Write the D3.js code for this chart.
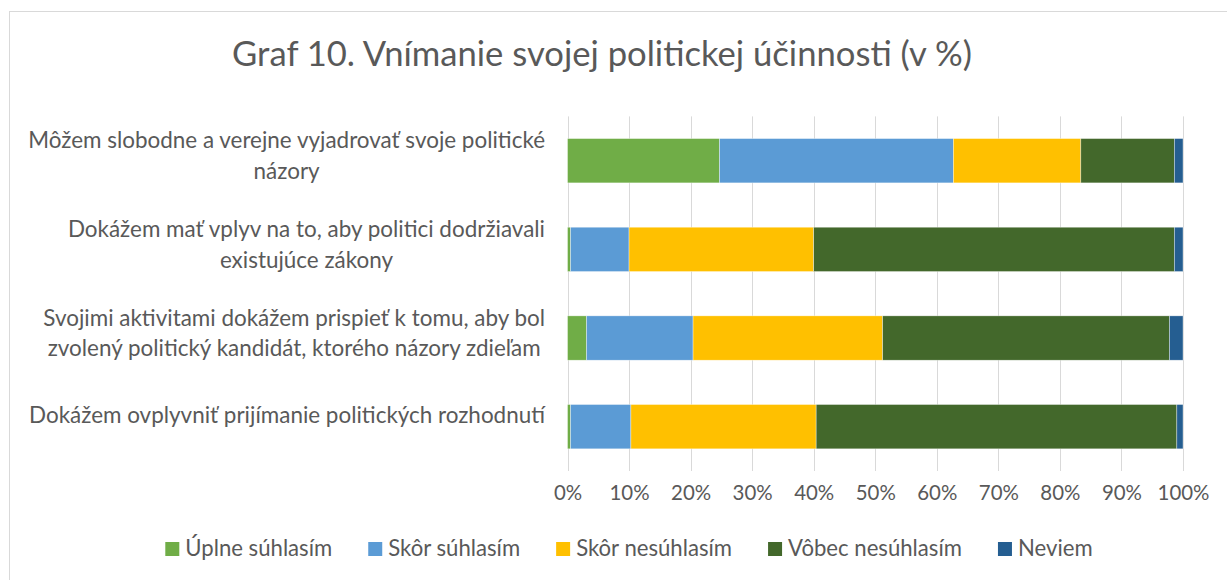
<!DOCTYPE html>
<html><head><meta charset="utf-8">
<script src="https://cdn.jsdelivr.net/npm/d3@7"></script>
<style>html,body{margin:0;padding:0;background:#fff;overflow:hidden}</style>
</head><body>
<svg id="c" width="1227" height="580"></svg>
<script>
const title = "Graf 10. Vnímanie svojej politickej účinnosti (v %)";
const categories = [
  ["Môžem slobodne a verejne vyjadrovať svoje politické", "názory"],
  ["Dokážem mať vplyv na to, aby politici dodržiavali", "existujúce zákony"],
  ["Svojimi aktivitami dokážem prispieť k tomu, aby bol", "zvolený politický kandidát, ktorého názory zdieľam"],
  ["Dokážem ovplyvniť prijímanie politických rozhodnutí"]
];
const seriesNames = ["Úplne súhlasím", "Skôr súhlasím", "Skôr nesúhlasím", "Vôbec nesúhlasím", "Neviem"];
const uplneSuhlasim   = [24.7, 0.5, 3.1, 0.5];
const skorSuhlasim    = [38.0, 9.5, 17.3, 9.8];
const skorNesuhlasim  = [20.7, 30.0, 30.8, 30.1];
const vobecNesuhlasim = [15.2, 58.6, 46.6, 58.6];
const neviem          = [1.4, 1.4, 2.2, 1.0];
const tickValues = [0, 10, 20, 30, 40, 50, 60, 70, 80, 90, 100];
const tickLabels = ["0%", "10%", "20%", "30%", "40%", "50%", "60%", "70%", "80%", "90%", "100%"];
const colors = ["#70AD47", "#5B9BD5", "#FFC000", "#43682B", "#255E91"];

const FONT = "Lato, 'Open Sans', sans-serif";
const TXT = "#595959";
const svg = d3.select("#c");

function fitSize(str, target, weight) {
  const t = svg.append("text").attr("font-family", FONT).attr("font-size", 100)
    .attr("font-weight", weight || 400).text(str);
  const w = t.node().getComputedTextLength();
  t.remove();
  return 100 * target / w;
}
const titleSize = fitSize(title, 740, 400);
const catSize = fitSize(categories[0][0], 517);
const tickSize = fitSize("100%", 52);
const legSize = fitSize(seriesNames[0], 147);

// border
svg.append("rect").attr("x", 9.5).attr("y", 11.5).attr("width", 1240).attr("height", 600)
  .attr("fill", "#fff").attr("stroke", "#d9d9d9").attr("stroke-width", 1);

// title
svg.append("text").attr("x", 602).attr("y", 66).attr("text-anchor", "middle")
  .attr("font-family", FONT).attr("font-weight", 400).attr("font-size", titleSize)
  .attr("fill", TXT).text(title);

const table = categories.map((c, i) => ({
  key: i,
  [seriesNames[0]]: uplneSuhlasim[i],
  [seriesNames[1]]: skorSuhlasim[i],
  [seriesNames[2]]: skorNesuhlasim[i],
  [seriesNames[3]]: vobecNesuhlasim[i],
  [seriesNames[4]]: neviem[i]
}));
const stacked = d3.stack().keys(seriesNames)(table);

const x = d3.scaleLinear().domain([0, 100]).range([567.5, 1183]);
const y = d3.scaleBand().domain(d3.range(categories.length)).range([116.4, 471])
  .paddingInner(0.5).paddingOuter(0.25);
const color = d3.scaleOrdinal().domain(seriesNames).range(colors);

// gridlines
svg.append("g").selectAll("line").data(tickValues).join("line")
  .attr("x1", d => Math.round(x(d)) + 0.5).attr("x2", d => Math.round(x(d)) + 0.5)
  .attr("y1", 116.4).attr("y2", 471)
  .attr("stroke", "#d9d9d9").attr("stroke-width", 1);

// bars
svg.append("g").selectAll("g").data(stacked).join("g")
  .attr("fill", d => color(d.key))
  .selectAll("rect").data(d => d).join("rect")
  .attr("x", d => x(d[0])).attr("width", d => x(d[1]) - x(d[0]))
  .attr("y", d => y(d.data.key)).attr("height", y.bandwidth())
  .attr("stroke", "#ffffff").attr("stroke-width", 0.6).attr("stroke-opacity", 0.6);

// x tick labels
const xAxis = d3.axisBottom(x).tickValues(tickValues)
  .tickFormat((d, i) => tickLabels[i]).tickSize(0).tickPadding(0);
const ax = svg.append("g").attr("transform", "translate(0,485)").call(xAxis);
ax.select(".domain").remove();
ax.selectAll("text").attr("font-family", FONT).attr("font-size", tickSize)
  .attr("fill", TXT).attr("dy", "0.71em").attr("y", 0);

// category labels
const labRight = 545;
const lg = svg.append("g").attr("font-family", FONT).attr("font-size", catSize).attr("fill", TXT);
categories.forEach((lines, i) => {
  const cy = y(i) + y.bandwidth() / 2;
  const t = lg.append("text").attr("text-anchor", "middle");
  const tsp = lines.map((ln, j) => t.append("tspan").text(ln));
  const maxW = d3.max(tsp, s => s.node().getComputedTextLength());
  const cx = labRight - maxW / 2;
  const offs = lines.length === 1 ? [-3.5] : [-12.5, 18.3];
  tsp.forEach((s, j) => s.attr("x", cx).attr("y", cy + offs[j]));
});

// legend
const leg = svg.append("g").attr("font-family", FONT).attr("font-size", legSize).attr("fill", TXT);
let lx = 165.3;
seriesNames.forEach((n, i) => {
  leg.append("rect").attr("x", lx).attr("y", 542).attr("width", 14).attr("height", 14).attr("fill", colors[i]);
  const t = leg.append("text").attr("x", lx + 20).attr("y", 556).text(n);
  lx += 20 + t.node().getComputedTextLength() + 36;
});
</script>
</body></html>
